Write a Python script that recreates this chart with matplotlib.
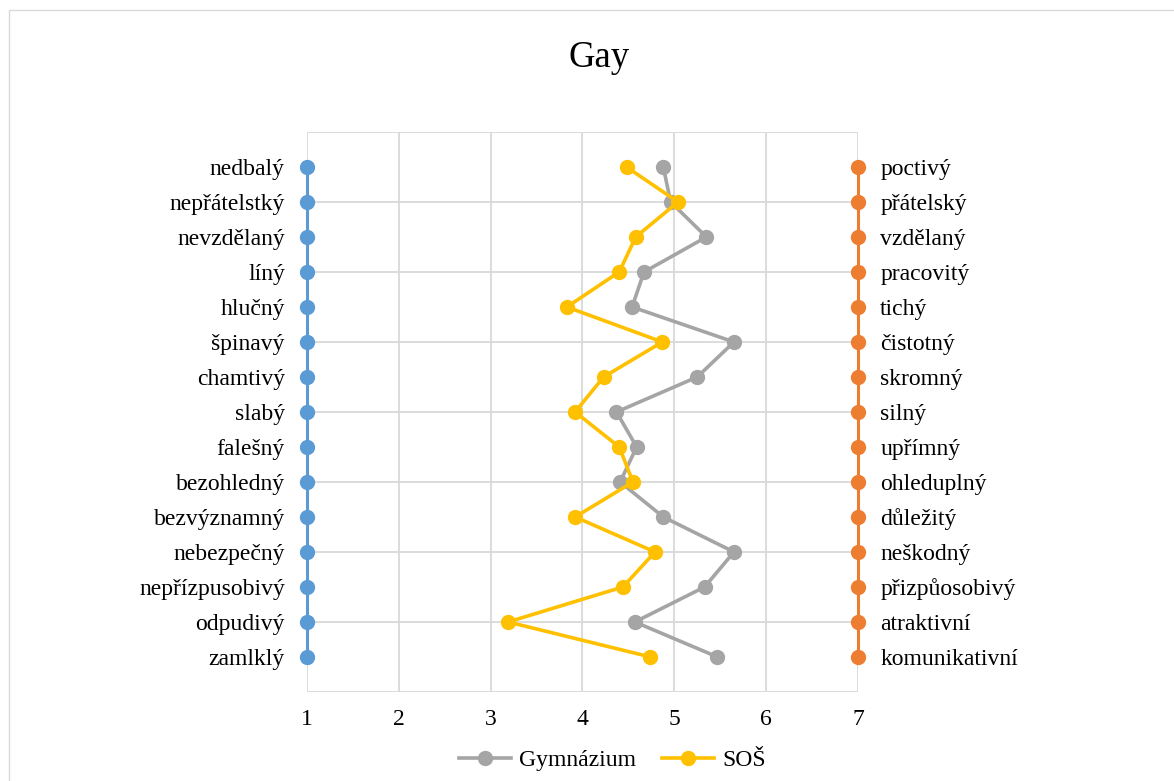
import matplotlib.pyplot as plt

left_labels = ["nedbalý", "nepřátelstký", "nevzdělaný", "líný", "hlučný", "špinavý",
               "chamtivý", "slabý", "falešný", "bezohledný", "bezvýznamný",
               "nebezpečný", "nepřízpusobivý", "odpudivý", "zamlklý"]
right_labels = ["poctivý", "přátelský", "vzdělaný", "pracovitý", "tichý", "čistotný",
                "skromný", "silný", "upřímný", "ohleduplný", "důležitý",
                "neškodný", "přizpůosobivý", "atraktivní", "komunikativní"]
gymnazium = [4.88, 4.96, 5.35, 4.67, 4.54, 5.65, 5.25, 4.37, 4.59, 4.41,
             4.88, 5.65, 5.33, 4.57, 5.47]
sos = [4.48, 5.04, 4.58, 4.40, 3.83, 4.87, 4.23, 3.92, 4.40, 4.55,
       3.92, 4.79, 4.44, 3.19, 4.74]
scale_min, scale_max = 1, 7

plt.rcParams["font.family"] = ["Liberation Serif", "DejaVu Serif"]

rows = list(range(1, len(left_labels) + 1))

fig = plt.figure(figsize=(11.74, 7.81), dpi=100)
ax = fig.add_axes([0.2615, 0.114, 0.4693, 0.717])

grid_c = "#D9D9D9"
for x in range(scale_min, scale_max + 1):
    ax.axvline(x, color=grid_c, lw=1.3, zorder=0)
for y in range(0, 17, 2):
    ax.axhline(y, color=grid_c, lw=1.3, zorder=0)

# pole stupnice
ax.plot([scale_min] * len(rows), rows, color="#5B9BD5", lw=2.2, marker="o",
        ms=10, clip_on=False, zorder=3)
ax.plot([scale_max] * len(rows), rows, color="#ED7D31", lw=2.2, marker="o",
        ms=10, clip_on=False, zorder=3)

ax.plot(gymnazium, rows, color="#A5A5A5", lw=2.6, marker="o", ms=10,
        label="Gymnázium", zorder=4)
ax.plot(sos, rows, color="#FFC000", lw=2.6, marker="o", ms=10,
        label="SOŠ", zorder=5)

for r, l, rt in zip(rows, left_labels, right_labels):
    ax.annotate(l, (scale_min, r), xytext=(-16, 0), textcoords="offset points",
                ha="right", va="center_baseline", fontsize=17)
    ax.annotate(rt, (scale_max, r), xytext=(16, 0), textcoords="offset points",
                ha="left", va="center_baseline", fontsize=17)

ax.set_xlim(scale_min, scale_max)
ax.set_ylim(16, 0)
ax.set_xticks(range(scale_min, scale_max + 1))
ax.set_yticks([])
ax.tick_params(axis="x", length=0, labelsize=17, pad=12)
for s in ax.spines.values():
    s.set_visible(False)

fig.text(0.51, 0.926, "Gay", ha="center", va="center", fontsize=26.5)

ax.legend(loc="upper center", bbox_to_anchor=(0.555, -0.065), ncol=2, frameon=False,
          fontsize=17, handlelength=2.2, columnspacing=1.1, handletextpad=0.35)

# rámeček kolem celého grafu
fig.patches.append(plt.Rectangle((0.008, -0.01), 1.1, 0.997, transform=fig.transFigure,
                                 fill=False, edgecolor="#D9D9D9", lw=1))

fig.savefig("out.png", dpi=100)
plt.close(fig)
